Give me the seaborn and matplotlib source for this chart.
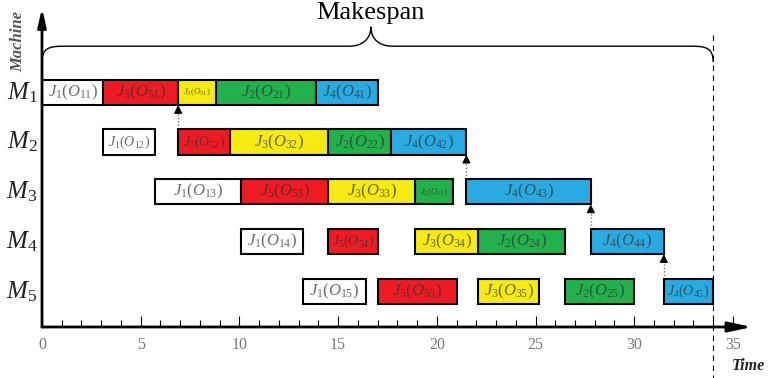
import matplotlib
matplotlib.use("Agg")
import matplotlib.pyplot as plt
from matplotlib.path import Path
from matplotlib.patches import PathPatch
from matplotlib.ticker import MultipleLocator
import pandas as pd
import seaborn as sns

# ---- schedule data -------------------------------------------------------
machines = ["M1", "M2", "M3", "M4", "M5"]
jobs = [1, 2, 3, 4, 5]

# Operation O_jk of job j is processed on machine M_k
j1_start = [0.0, 3.1, 5.7, 10.1, 13.2]
j1_end = [3.1, 5.7, 10.1, 13.2, 16.4]
j2_start = [8.8, 14.5, 18.9, 22.1, 26.5]
j2_end = [13.9, 17.7, 20.8, 26.5, 30.0]
j3_start = [6.9, 9.5, 14.5, 18.9, 22.1]
j3_end = [8.8, 14.5, 18.9, 22.1, 25.2]
j4_start = [13.9, 17.7, 21.5, 27.8, 31.5]
j4_end = [17.0, 21.5, 27.8, 31.5, 34.0]
j5_start = [3.1, 6.9, 10.1, 14.5, 17.0]
j5_end = [6.9, 9.5, 14.5, 17.0, 21.0]

time_ticks = [0, 5, 10, 15, 20, 25, 30, 35]

# operations (job, op index) that wait for the same job on the machine above
precedence_links = [(5, 2), (4, 3), (4, 4), (4, 5)]

job_colors = {1: "#ffffff", 2: "#22b14c", 3: "#f5ea14", 4: "#29abe2", 5: "#ed1c24"}

# ---- table of operations -------------------------------------------------
starts = {1: j1_start, 2: j2_start, 3: j3_start, 4: j4_start, 5: j5_start}
ends = {1: j1_end, 2: j2_end, 3: j3_end, 4: j4_end, 5: j5_end}
rows = []
for j in jobs:
    for k in range(1, len(machines) + 1):
        rows.append({"job": j, "op": k, "start": starts[j][k - 1], "end": ends[j][k - 1]})
ops = pd.DataFrame(rows)
ops["duration"] = ops["end"] - ops["start"]
makespan = ops["end"].max()

# ---- style ---------------------------------------------------------------
sns.set_theme(style="white")
plt.rcParams["font.family"] = ["Liberation Serif", "DejaVu Serif"]
plt.rcParams["mathtext.fontset"] = "custom"
plt.rcParams["mathtext.rm"] = "Liberation Serif"
plt.rcParams["mathtext.it"] = "Liberation Serif:italic"
plt.rcParams["mathtext.bf"] = "Liberation Serif:bold"

W, H = 768, 378
fig = plt.figure(figsize=(W / 100, H / 100), dpi=100)
px_x = 19.74   # pixels per time unit
px_y = 49.7    # pixels per machine row
x0_px, y0_px = 42, 327
right_px, top_px = 752, 8
ax = fig.add_axes([x0_px / W, (H - y0_px) / H, (right_px - x0_px) / W, (y0_px - top_px) / H])
ax.set_xlim(0, (right_px - x0_px) / px_x)
ax.set_ylim(0, (y0_px - top_px) / px_y)
for s in ax.spines.values():
    s.set_visible(False)

bar_h = 0.51
row_y = {k: 5.72 - k for k in range(1, len(machines) + 1)}

# ---- bars ----------------------------------------------------------------
for _, r in ops.iterrows():
    j, k = int(r.job), int(r.op)
    y = row_y[k]
    ax.barh(y, r.duration, left=r.start, height=bar_h, color=job_colors[j],
            edgecolor="black", linewidth=1.5, zorder=3)
    if r.duration < 2.2:
        fs = 6.5
    elif r.duration < 2.7:
        fs = 10
    else:
        fs = 12
    ax.text(r.start + r.duration / 2, y, rf"$J_{j}(O_{{{j}{k}}})$", ha="center",
            va="center", fontsize=fs, color="#333333", alpha=0.72, zorder=4)

# ---- precedence arrows ---------------------------------------------------
for j, k in precedence_links:
    x = float(ops[(ops.job == j) & (ops.op == k)].start.iloc[0])
    y_low = row_y[k] + bar_h / 2
    y_high = row_y[k - 1] - bar_h / 2
    ax.plot([x, x], [y_low, y_high - 0.1], ls=(0, (1, 1.5)), color="#777777", lw=1.0, zorder=2)
    ax.annotate("", xy=(x, y_high), xytext=(x, y_high - 0.16),
                arrowprops=dict(arrowstyle="-|>,head_length=0.5,head_width=0.25",
                                mutation_scale=10, color="black", lw=0.8,
                                shrinkA=0, shrinkB=0), zorder=5)

# ---- axes with arrow heads -----------------------------------------------
xmax, ymax = ax.get_xlim()[1], ax.get_ylim()[1]
ax.annotate("", xy=(xmax, 0), xytext=(0, 0), annotation_clip=False,
            arrowprops=dict(arrowstyle="-|>,head_length=1.4,head_width=0.3",
                            mutation_scale=10, color="black", lw=2, shrinkA=0, shrinkB=0))
ax.annotate("", xy=(0, ymax), xytext=(0, 0), annotation_clip=False,
            arrowprops=dict(arrowstyle="-|>,head_length=1.1,head_width=0.25",
                            mutation_scale=10, color="black", lw=2, shrinkA=0, shrinkB=0))

ax.set_xticks(time_ticks)
ax.xaxis.set_minor_locator(MultipleLocator(1))
ax.set_yticks([])
ax.tick_params(axis="x", which="major", bottom=True, direction="in", length=8,
               width=0.8, color="black", pad=7, labelsize=11.5, labelcolor="#777777")
ax.tick_params(axis="x", which="minor", bottom=True, direction="in", length=5,
               width=0.8, color="black")

for k in range(1, len(machines) + 1):
    ax.text(-0.22, row_y[k], rf"$M_{k}$", ha="right", va="center", fontsize=18,
            color="#222222", clip_on=False)

ax.text(-1.22, 5.75, "Machine", rotation=90, ha="center", va="center", fontsize=12,
        fontweight="bold", fontstyle="italic", color="#555555", clip_on=False)
ax.text(34.95, -0.785, "Time", ha="left", va="center", fontsize=11.5,
        fontweight="bold", fontstyle="italic", color="#222222", clip_on=False)

# ---- makespan marker -----------------------------------------------------
ax.plot([makespan, makespan], [5.88, -1.1], ls=(0, (5, 4)), color="black", lw=0.8,
        clip_on=False, zorder=1)

tip = makespan * 0.49
yb, yh, yt = 5.33, 5.65, 6.04
verts = [
    (0, yb), (0, 5.60), (0.3, yh), (1.1, yh),
    (tip - 1.1, yh),
    (tip - 0.5, yh), (tip, 5.77), (tip, yt),
    (tip, 5.77), (tip + 0.5, yh), (tip + 1.1, yh),
    (makespan - 1.1, yh),
    (makespan - 0.3, yh), (makespan, 5.60), (makespan, yb),
]
codes = [Path.MOVETO, Path.CURVE4, Path.CURVE4, Path.CURVE4,
         Path.LINETO,
         Path.CURVE4, Path.CURVE4, Path.CURVE4,
         Path.CURVE4, Path.CURVE4, Path.CURVE4,
         Path.LINETO,
         Path.CURVE4, Path.CURVE4, Path.CURVE4]
ax.add_patch(PathPatch(Path(verts, codes), fill=False, lw=1.0, edgecolor="black",
                       clip_on=False))
ax.text(tip, 6.32, "Makespan", ha="center", va="center", fontsize=19, color="black",
        clip_on=False)

fig.savefig("out.png", dpi=100)
